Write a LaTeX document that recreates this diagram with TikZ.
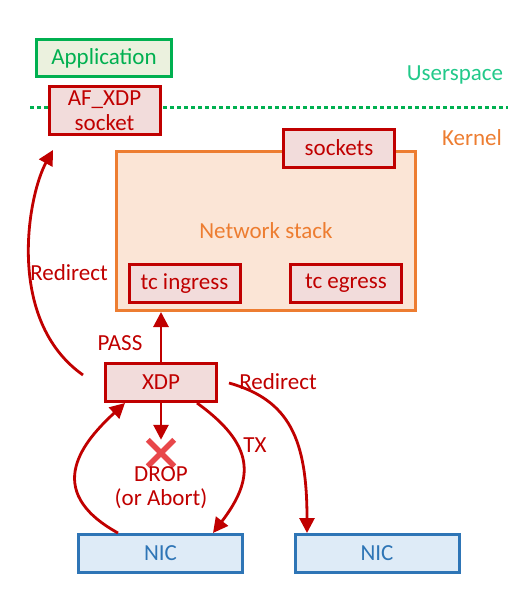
\documentclass[tikz,border=0pt]{standalone}
\usepackage{fontspec}
\setmainfont{Carlito}
\usetikzlibrary{arrows.meta,shapes.misc}
\definecolor{xred}{HTML}{C00000}
\definecolor{xredfill}{HTML}{F2DCDB}
\definecolor{xorange}{HTML}{ED7D31}
\definecolor{xorangefill}{HTML}{FBE5D6}
\definecolor{xgreen}{HTML}{00B050}
\definecolor{xgreenfill}{HTML}{EBF1DE}
\definecolor{xblue}{HTML}{2E75B6}
\definecolor{xbluefill}{HTML}{DEEBF7}
\definecolor{xteal}{HTML}{22C98A}
\definecolor{xcross}{HTML}{E8474A}

\begin{document}
\begin{tikzpicture}[x=1pt,y=-1pt,
		font=\fontsize{23}{25}\selectfont,
		redbox/.style={draw=xred,fill=xredfill,text=xred,line width=3pt,minimum width=111pt,minimum height=38pt,inner sep=0pt},
		nicbox/.style={draw=xblue,fill=xbluefill,text=xblue,line width=3pt,minimum width=164pt,minimum height=38pt,inner sep=0pt},
		flow/.style={draw=xred,line width=2.8pt,-{Triangle[length=15pt,width=15pt]}},
		lbl/.style={text=xred}]
		\useasboundingbox (0,0) rectangle (524,594);
		
		% userspace / kernel border
		\coordinate (sepl) at (30,107);
		\coordinate (sepr) at (508,107);
		\draw[xgreen, line width=3pt, dash pattern=on 4pt off 3pt] (sepl) -- (sepr);
		\node[text=xteal] at (455,75) (user) {Userspace};
		\node[text=xorange] at (472,138) (kern) {Kernel};
		
		\node[draw=xgreen, fill=xgreenfill, text=xgreen, line width=3pt, minimum width=135pt, minimum height=37pt] at (104,58) (app) {Application};
		\node[redbox, align=center, minimum height=48pt, font=\fontsize{23}{25}\selectfont] at (104.5,110.5) (afxdp) {AF\_XDP\\socket};
		
		\node[draw=xorange, fill=xorangefill, text=xorange, line width=3pt, minimum width=299pt, minimum height=159pt] at (266,231) (stack) {Network stack};
		\node[redbox] at (339,148) (sock) {sockets};
		\node[redbox] at (184.5,283.5) (tcin) {tc ingress};
		\node[redbox] at (346,283.5) (tceg) {tc egress};
		
		\node[redbox] at (161,382.5) (xdp) {XDP};
		\node[nicbox] at (160.5,553.5) (nic) {NIC};
		\node[nicbox] at (377,553.5) (nicb) {NIC};
		
		% PASS
		\draw[flow] (xdp.north) -- (xdp.north |- stack.south);
		\node[lbl] at (120,343) (pass) {PASS};
		
		% redirect to AF_XDP
		\coordinate (rdl) at (83,375);
		\coordinate (rdltip) at (53,150);
		\draw[flow] (rdl) .. controls (5,320) and (28,195) .. (rdltip);
		\node[lbl] at (69,273) (rdllbl) {Redirect};
		
		% redirect to other NIC
		\coordinate (rdr) at (229,383);
		\draw[flow] (rdr) .. controls (290,400) and (307,440) .. (nicb.north -| 307,0);
		\node[lbl] at (278,382) (rdrlbl) {Redirect};
		
		% drop
		\node[cross out, draw=xcross, line width=5.5pt, minimum size=21pt, inner sep=0pt] at (161,453) (drop) {};
		\draw[flow] (xdp.south) -- (drop.north);
		\node[lbl, align=center, font=\fontsize{23}{24}\selectfont] at (161,488) (droplbl) {DROP\\(or Abort)};
		
		% TX
		\draw[flow] (xdp.south -| 197,0) .. controls (255,445) and (255,478) .. (nic.north -| 213,0);
		\node[lbl] at (255,445) (tx) {TX};
		
		% NIC in
		\draw[flow] (nic.north -| 118,0) .. controls (40,490) and (85,440) .. (xdp.south -| 125,0);
	\end{tikzpicture}
\end{document}
